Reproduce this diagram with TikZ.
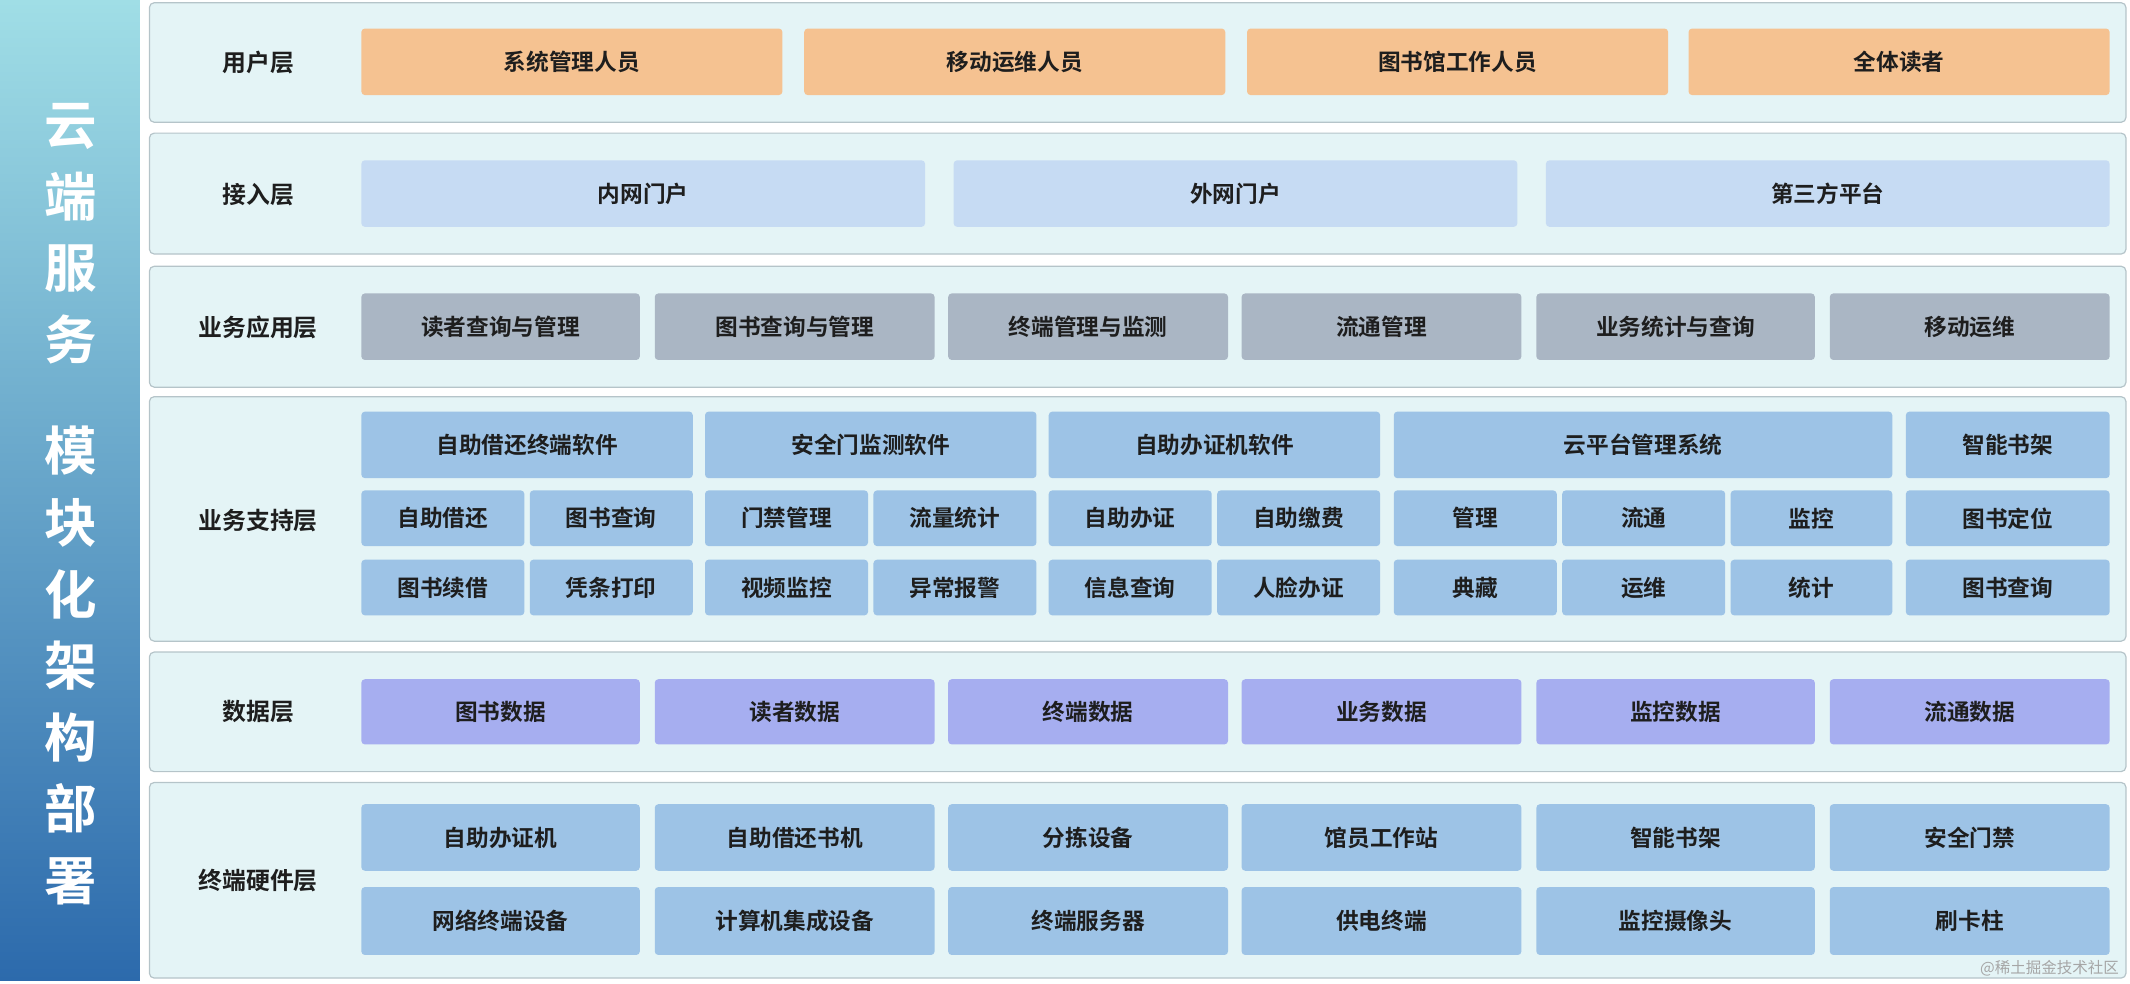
\documentclass[tikz,border=0pt]{standalone}
\usepackage{fontspec}
\setmainfont{Noto Sans CJK SC}[BoldFont={* Bold}]
\definecolor{org}{HTML}{F5C291}
\definecolor{acc}{HTML}{C6DBF3}
\definecolor{gry}{HTML}{AAB6C4}
\definecolor{blu}{HTML}{9DC3E6}
\definecolor{pur}{HTML}{A6AEF0}
\definecolor{pan}{HTML}{E4F4F6}
\definecolor{panb}{HTML}{B5C4C9}
\definecolor{txt}{HTML}{1E1E1E}
\newcommand{\bx}[7]{\node[bxs,fill=#6,minimum width={(#3-#2)*0.02cm},minimum height={(#5-#4)*0.02cm}] (#1) at ({(#2+#3)/2},{(#4+#5)/2}) {#7};}
\tikzset{bxs/.style={draw=none,rounded corners=1.5pt,inner sep=0pt,font=\fontsize{9.5}{11}\selectfont\bfseries,text=txt},
panel/.style={draw=panb,fill=pan,rounded corners=2pt,line width=0.5pt},
lbl/.style={font=\fontsize{10}{12}\selectfont\bfseries,text=txt}}
\begin{document}
\begin{tikzpicture}[x=0.02cm,y=-0.02cm]
\useasboundingbox (0,0) rectangle (1568,724);
\shade[top color={rgb,255:red,160;green,222;blue,230},bottom color={rgb,255:red,44;green,106;blue,172}] (0,0) rectangle (103,722);
\node[text=white,font=\fontsize{22}{30}\selectfont\bfseries,align=center] (t1) at (52,172) {云\\端\\服\\务};
\node[text=white,font=\fontsize{22}{30}\selectfont\bfseries,align=center] (t2) at (52,490) {模\\块\\化\\架\\构\\部\\署};
% panels
\draw[panel] (110,2) rectangle (1565,90);
\draw[panel] (110,98) rectangle (1565,187);
\draw[panel] (110,196) rectangle (1565,285);
\draw[panel] (110,292) rectangle (1565,472);
\draw[panel] (110,480) rectangle (1565,568);
\draw[panel] (110,576) rectangle (1565,720);
\node[lbl] (l1) at (190,46) {用户层};
\node[lbl] (l2) at (190,143) {接入层};
\node[lbl] (l3) at (190,241) {业务应用层};
\node[lbl] (l4) at (190,383) {业务支持层};
\node[lbl] (l5) at (190,524) {数据层};
\node[lbl] (l6) at (190,648) {终端硬件层};
% row1
\bx{u1}{266}{576}{21}{70}{org}{系统管理人员}
\bx{u2}{592}{902}{21}{70}{org}{移动运维人员}
\bx{u3}{918}{1228}{21}{70}{org}{图书馆工作人员}
\bx{u4}{1243}{1553}{21}{70}{org}{全体读者}
% row2
\bx{a1}{266}{681}{118}{167}{acc}{内网门户}
\bx{a2}{702}{1117}{118}{167}{acc}{外网门户}
\bx{a3}{1138}{1553}{118}{167}{acc}{第三方平台}
% row3
\bx{b1}{266}{471}{216}{265}{gry}{读者查询与管理}
\bx{b2}{482}{688}{216}{265}{gry}{图书查询与管理}
\bx{b3}{698}{904}{216}{265}{gry}{终端管理与监测}
\bx{b4}{914}{1120}{216}{265}{gry}{流通管理}
\bx{b5}{1131}{1336}{216}{265}{gry}{业务统计与查询}
\bx{b6}{1347}{1553}{216}{265}{gry}{移动运维}
% row4
\bx{s1}{266}{510}{303}{352}{blu}{自助借还终端软件}
\bx{s2}{519}{763}{303}{352}{blu}{安全门监测软件}
\bx{s3}{772}{1016}{303}{352}{blu}{自助办证机软件}
\bx{s4}{1026}{1393}{303}{352}{blu}{云平台管理系统}
\bx{s5}{1403}{1553}{303}{352}{blu}{智能书架}
\bx{m1}{266}{386}{361}{402}{blu}{自助借还}
\bx{m2}{390}{510}{361}{402}{blu}{图书查询}
\bx{m3}{519}{639}{361}{402}{blu}{门禁管理}
\bx{m4}{643}{763}{361}{402}{blu}{流量统计}
\bx{m5}{772}{892}{361}{402}{blu}{自助办证}
\bx{m6}{896}{1016}{361}{402}{blu}{自助缴费}
\bx{m7}{1026}{1146}{361}{402}{blu}{管理}
\bx{m8}{1150}{1270}{361}{402}{blu}{流通}
\bx{m9}{1274}{1393}{361}{402}{blu}{监控}
\bx{m10}{1403}{1553}{361}{402}{blu}{图书定位}
\bx{n1}{266}{386}{412}{453}{blu}{图书续借}
\bx{n2}{390}{510}{412}{453}{blu}{凭条打印}
\bx{n3}{519}{639}{412}{453}{blu}{视频监控}
\bx{n4}{643}{763}{412}{453}{blu}{异常报警}
\bx{n5}{772}{892}{412}{453}{blu}{信息查询}
\bx{n6}{896}{1016}{412}{453}{blu}{人脸办证}
\bx{n7}{1026}{1146}{412}{453}{blu}{典藏}
\bx{n8}{1150}{1270}{412}{453}{blu}{运维}
\bx{n9}{1274}{1393}{412}{453}{blu}{统计}
\bx{n10}{1403}{1553}{412}{453}{blu}{图书查询}
% row5
\bx{d1}{266}{471}{500}{548}{pur}{图书数据}
\bx{d2}{482}{688}{500}{548}{pur}{读者数据}
\bx{d3}{698}{904}{500}{548}{pur}{终端数据}
\bx{d4}{914}{1120}{500}{548}{pur}{业务数据}
\bx{d5}{1131}{1336}{500}{548}{pur}{监控数据}
\bx{d6}{1347}{1553}{500}{548}{pur}{流通数据}
% row6
\bx{h1}{266}{471}{592}{641}{blu}{自助办证机}
\bx{h2}{482}{688}{592}{641}{blu}{自助借还书机}
\bx{h3}{698}{904}{592}{641}{blu}{分拣设备}
\bx{h4}{914}{1120}{592}{641}{blu}{馆员工作站}
\bx{h5}{1131}{1336}{592}{641}{blu}{智能书架}
\bx{h6}{1347}{1553}{592}{641}{blu}{安全门禁}
\bx{g1}{266}{471}{653}{703}{blu}{网络终端设备}
\bx{g2}{482}{688}{653}{703}{blu}{计算机集成设备}
\bx{g3}{698}{904}{653}{703}{blu}{终端服务器}
\bx{g4}{914}{1120}{653}{703}{blu}{供电终端}
\bx{g5}{1131}{1336}{653}{703}{blu}{监控摄像头}
\bx{g6}{1347}{1553}{653}{703}{blu}{刷卡柱}
\node[text=gray!70,font=\fontsize{6.5}{8}\selectfont,anchor=east] (wm) at (1566,713) {@稀土掘金技术社区};
\end{tikzpicture}
\end{document}
